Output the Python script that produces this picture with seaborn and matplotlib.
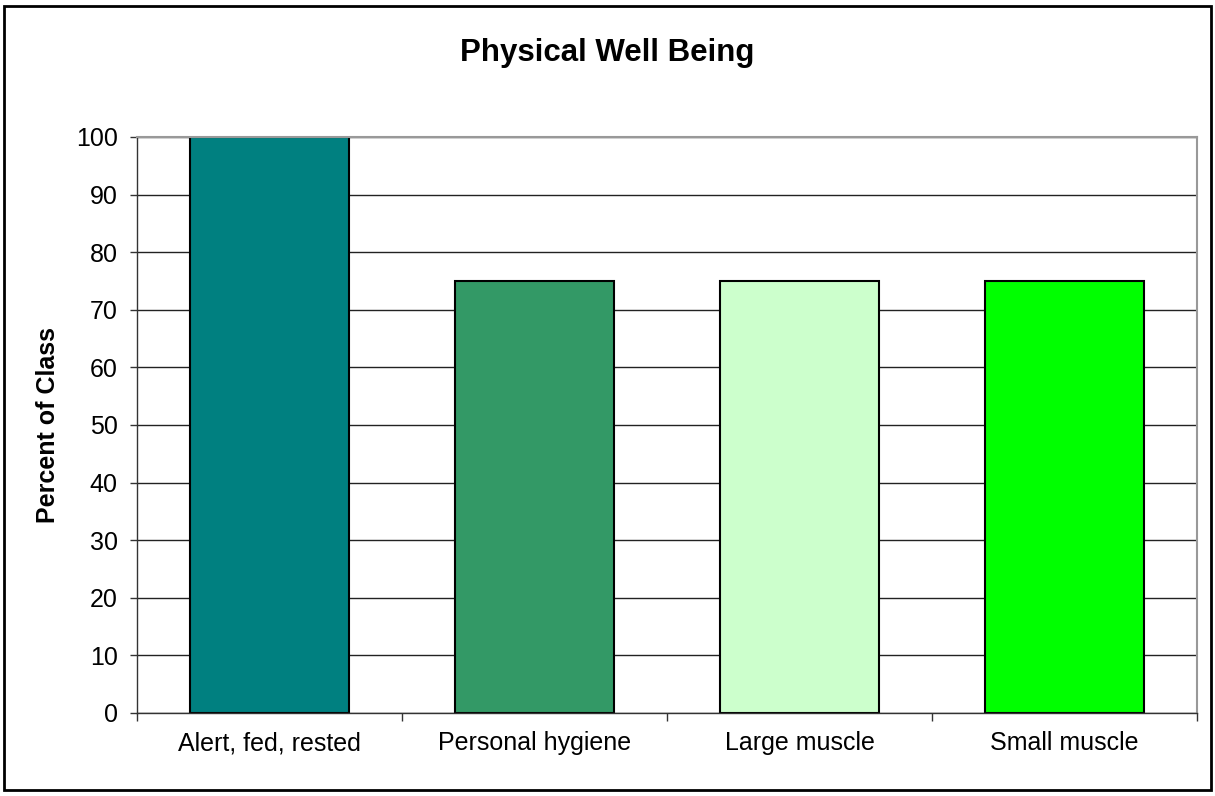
import pandas as pd
import seaborn as sns
import matplotlib.pyplot as plt
from matplotlib.patches import Rectangle
from matplotlib.ticker import FixedLocator

# Chart data
categories = ["Alert, fed, rested", "Personal hygiene", "Large muscle", "Small muscle"]
percent = [100, 75, 75, 75]
bar_colors = ["#008080", "#339966", "#CCFFCC", "#00FF00"]

df = pd.DataFrame({"category": categories, "percent": percent})

sns.set_style("white")
plt.rcParams['font.family'] = ['Liberation Sans', 'DejaVu Sans']
plt.rcParams['text.color'] = 'black'
plt.rcParams['axes.labelcolor'] = 'black'
plt.rcParams['xtick.labelcolor'] = 'black'
plt.rcParams['ytick.labelcolor'] = 'black'

fig = plt.figure(figsize=(12.15, 7.96), dpi=100)
ax = fig.add_axes([0.1128, 0.1043, 0.8724, 0.7236])

sns.barplot(data=df, x="category", y="percent", hue="category", palette=bar_colors,
            saturation=1, width=0.6, edgecolor="black", linewidth=1.5, legend=False, ax=ax)

ax.set_ylim(0, 100)
ax.set_xlim(-0.5, len(categories) - 0.5)
ax.set_yticks(range(0, 101, 10))
ax.yaxis.grid(True, color="#222222", linewidth=1)
ax.set_axisbelow(True)

# x ticks at category boundaries, labels centered in each category
ax.xaxis.set_major_locator(FixedLocator([i - 0.5 for i in range(len(categories) + 1)]))
ax.set_xticklabels([])
ax.set_xticks(range(len(categories)), minor=True)
ax.set_xticklabels(categories, minor=True)
ax.tick_params(axis="x", which="major", length=6, width=1, color="#333333", direction="out", bottom=True)
ax.tick_params(axis="x", which="minor", length=0, pad=13, labelsize=18, labelcolor="black")
ax.tick_params(axis="y", length=5, width=1, color="#333333", direction="out", left=True,
               labelsize=18, pad=9, labelcolor="black")

for side in ["top", "right"]:
    ax.spines[side].set_color("#999999")
    ax.spines[side].set_linewidth(1.5)
for side in ["left", "bottom"]:
    ax.spines[side].set_color("#333333")
    ax.spines[side].set_linewidth(1)

ax.set_xlabel("")
ax.set_ylabel("Percent of Class", fontsize=18, fontweight="bold", labelpad=11, color="black")
fig.text(0.5, 0.933, "Physical Well Being", ha="center", va="center",
         fontsize=22.5, fontweight="bold", color="black")

# outer chart border
fig.patches.append(Rectangle((0.003, 0.007), 0.994, 0.986, transform=fig.transFigure,
                             fill=False, edgecolor="black", linewidth=2))

fig.savefig("out.png", dpi=100)
